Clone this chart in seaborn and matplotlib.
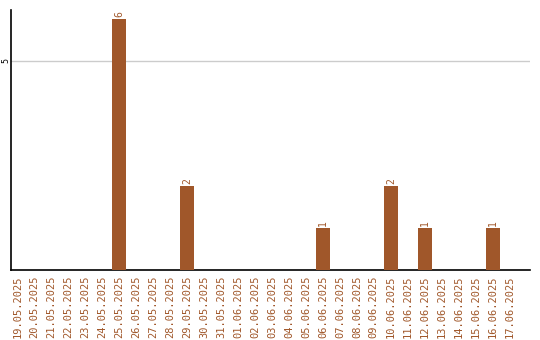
import matplotlib
matplotlib.use("Agg")
import matplotlib.pyplot as plt
import seaborn as sns
import pandas as pd

dates = ["19.05.2025", "20.05.2025", "21.05.2025", "22.05.2025", "23.05.2025",
         "24.05.2025", "25.05.2025", "26.05.2025", "27.05.2025", "28.05.2025",
         "29.05.2025", "30.05.2025", "31.05.2025", "01.06.2025", "02.06.2025",
         "03.06.2025", "04.06.2025", "05.06.2025", "06.06.2025", "07.06.2025",
         "08.06.2025", "09.06.2025", "10.06.2025", "11.06.2025", "12.06.2025",
         "13.06.2025", "14.06.2025", "15.06.2025", "16.06.2025", "17.06.2025"]
counts = [0, 0, 0, 0, 0, 0, 6, 0, 0, 0, 2, 0, 0, 0, 0,
          0, 0, 0, 1, 0, 0, 0, 2, 0, 1, 0, 0, 0, 1, 0]
y_ticks = [5]

BROWN = "#A0572A"
df = pd.DataFrame({"date": dates, "count": counts})

sns.set_style("white")
plt.rcParams["font.family"] = ["DejaVu Sans Mono", "DejaVu Sans"]

fig = plt.figure(figsize=(5.4, 3.4), dpi=100)
ax = fig.add_axes([11 / 540, 70 / 340, 519 / 540, 260 / 340])

sns.barplot(data=df, x="date", y="count", color=BROWN, width=0.82,
            saturation=1, linewidth=0, ax=ax, zorder=3)

for i, v in enumerate(counts):
    if v > 0:
        ax.text(i, v + 0.05, str(v), rotation=90, ha="center", va="bottom",
                color=BROWN, fontsize=7)

ax.set_xlim(-0.38, 30.2)
ax.set_ylim(0, 6.22)
ax.set_yticks(y_ticks)
ax.set_yticklabels([str(t) for t in y_ticks], rotation=90, va="center",
                   ha="center", fontsize=6, color="black")
ax.yaxis.grid(True, color="#cccccc", linewidth=1, zorder=0)
ax.tick_params(axis="y", length=0, pad=4)
ax.tick_params(axis="x", length=0, pad=4, labelrotation=90,
               labelsize=7.5, labelcolor=BROWN)
ax.set_xlabel("")
ax.set_ylabel("")

for side in ["top", "right"]:
    ax.spines[side].set_visible(False)
for side in ["left", "bottom"]:
    ax.spines[side].set_color("black")
    ax.spines[side].set_linewidth(1.2)

fig.savefig("out.png", dpi=100)
